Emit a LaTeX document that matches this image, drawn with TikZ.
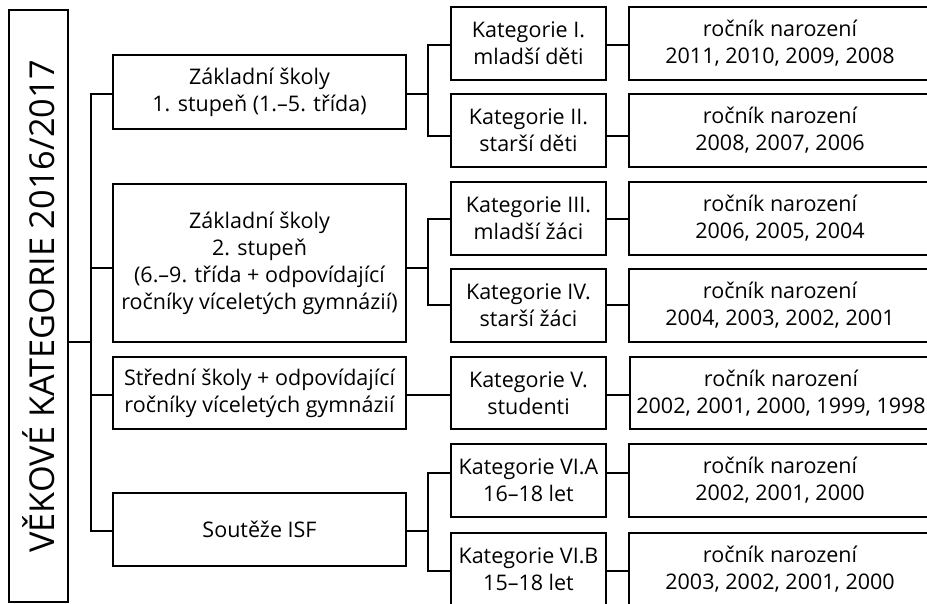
\documentclass[tikz,border=0pt]{standalone}
\usepackage{fontspec}
\usepackage{graphicx}
\setmainfont{Open Sans}
\begin{document}
\begin{tikzpicture}[x=1pt,y=-1pt,
  bx/.style={draw, line width=2.4pt, inner sep=0pt, align=center, font=\fontsize{21.5}{27}\selectfont},
  c1/.style={bx, minimum width=293pt},
  c2/.style={bx, minimum width=155pt, minimum height=73pt},
  c3/.style={bx, minimum width=302pt, minimum height=73pt},
  ln/.style={line width=2.4pt}]
\useasboundingbox (0,0) rectangle (927,604);
\clip (0,0) rectangle (927,604);
% title
\node[bx, minimum width=59pt, minimum height=592pt] (title) at (38.5,306)
  {\rotatebox{90}{\fontsize{34.3}{36}\selectfont VĚKOVÉ KATEGORIE 2016/2017}};
% column 1
\node[c1, minimum height=74pt] (b1) at (259.5,92) {Základní školy\\1. stupeň (1.–5. třída)};
\node[c1, minimum height=158pt] (b2) at (259.5,263) {Základní školy\\2. stupeň\\(6.–9. třída + odpovídající\\ročníky víceletých gymnázií)};
\node[c1, minimum height=72pt] (b3) at (259.5,393) {Střední školy + odpovídající\\ročníky víceletých gymnázií};
\node[c1, minimum height=73pt] (b4) at (259.5,529.5) {Soutěže ISF};
% column 2
\node[c2] (r1) at (528.5,43.5) {Kategorie I.\\mladší děti};
\node[c2] (r2) at (528.5,130.5) {Kategorie II.\\starší děti};
\node[c2] (r3) at (528.5,218.5) {Kategorie III.\\mladší žáci};
\node[c2] (r4) at (528.5,305.5) {Kategorie IV.\\starší žáci};
\node[c2, minimum height=72pt] (r5) at (528.5,393) {Kategorie V.\\studenti};
\node[c2] (r6) at (528.5,480.5) {Kategorie VI.A\\16–18 let};
\node[c2] (r7) at (528.5,569.5) {Kategorie VI.B\\15–18 let};
% column 3
\node[c3] (s1) at (780,43.5) {ročník narození\\2011, 2010, 2009, 2008};
\node[c3] (s2) at (780,130.5) {ročník narození\\2008, 2007, 2006};
\node[c3] (s3) at (780,218.5) {ročník narození\\2006, 2005, 2004};
\node[c3] (s4) at (780,305.5) {ročník narození\\2004, 2003, 2002, 2001};
\node[c3, minimum height=72pt] (s5) at (781,393) {ročník narození\\2002, 2001, 2000, 1999, 1998};
\node[c3] (s6) at (780,480.5) {ročník narození\\2002, 2001, 2000};
\node[c3] (s7) at (780,569.5) {ročník narození\\2003, 2002, 2001, 2000};
% junctions
\coordinate (T0) at (91,342);
\coordinate (T1) at (91,94);
\coordinate (T2) at (91,268);
\coordinate (T3) at (91,395);
\coordinate (T4) at (91,531);
\coordinate (Y1) at (428,45);
\coordinate (Y2) at (428,136);
\coordinate (Y3) at (428,219);
\coordinate (Y4) at (428,305);
\coordinate (Y5) at (428,395);
\coordinate (Y6) at (428,473);
\coordinate (Y7) at (428,571);
% trunk
\draw[ln] (b1.west |- T1) -- (T1) -- (T4) -- (b4.west |- T4);
\draw[ln] (title.east |- T0) -- (T0);
\draw[ln] (T2) -- (b2.west |- T2);
\draw[ln] (T3) -- (b3.west |- T3);
% branches col1 -> col2
\draw[ln] (b1.east |- T1) -- (Y1 |- T1);
\draw[ln] (r1.west |- Y1) -- (Y1) -- (Y2) -- (r2.west |- Y2);
\draw[ln] (b2.east |- T2) -- (Y3 |- T2);
\draw[ln] (r3.west |- Y3) -- (Y3) -- (Y4) -- (r4.west |- Y4);
\draw[ln] (b3.east |- Y5) -- (r5.west |- Y5);
\draw[ln] (b4.east |- T4) -- (Y6 |- T4);
\draw[ln] (r6.west |- Y6) -- (Y6) -- (Y7) -- (r7.west |- Y7);
% col2 -> col3
\draw[ln] (r1.east |- Y1) -- (s1.west |- Y1);
\draw[ln] (r2.east |- Y2) -- (s2.west |- Y2);
\draw[ln] (r3.east |- Y3) -- (s3.west |- Y3);
\draw[ln] (r4.east |- Y4) -- (s4.west |- Y4);
\draw[ln] (r5.east |- Y5) -- (s5.west |- Y5);
\draw[ln] (r6.east |- Y6) -- (s6.west |- Y6);
\draw[ln] (r7.east |- Y7) -- (s7.west |- Y7);
\end{tikzpicture}
\end{document}
